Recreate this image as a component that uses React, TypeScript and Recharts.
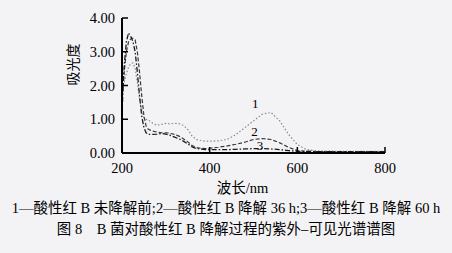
import { LineChart, Line, XAxis, YAxis, ReferenceDot } from "recharts";

// wavelength (nm)
const wavelengths = [
  200, 205, 210, 215, 220, 225, 230, 235, 240, 245, 250, 255, 260, 270, 280, 290,
  300, 310, 320, 330, 340, 350, 360, 370, 380, 390, 400, 420, 440, 460, 480, 500,
  520, 540, 560, 580, 600, 620, 650, 700, 750, 800,
];
// 1 — before degradation
const series1 = [
  1.9, 2.1, 2.35, 2.55, 2.65, 2.67, 2.5, 2.1, 1.6, 1.25, 1.05, 1.0, 0.98, 0.88, 0.82, 0.85,
  0.88, 0.86, 0.88, 0.87, 0.82, 0.7, 0.5, 0.4, 0.37, 0.35, 0.35, 0.36, 0.4, 0.55, 0.75, 0.95,
  1.15, 1.2, 0.95, 0.55, 0.25, 0.1, 0.06, 0.05, 0.05, 0.05,
];
// 2 — 36 h
const series2 = [
  1.6, 2.4, 3.0, 3.3, 3.38, 3.4, 3.35, 3.0, 2.4, 1.7, 1.1, 0.8, 0.7, 0.65, 0.62, 0.6,
  0.6, 0.58, 0.55, 0.5, 0.42, 0.33, 0.22, 0.16, 0.14, 0.13, 0.14, 0.17, 0.21, 0.26, 0.32, 0.4,
  0.43, 0.4, 0.3, 0.17, 0.07, 0.05, 0.04, 0.04, 0.04, 0.04,
];
// 3 — 60 h
const series3 = [
  1.2, 2.6, 3.3, 3.56, 3.45, 3.3, 3.0, 2.4, 1.7, 1.1, 0.75, 0.6, 0.55, 0.55, 0.56, 0.58,
  0.56, 0.52, 0.47, 0.42, 0.35, 0.27, 0.18, 0.13, 0.12, 0.1, 0.1, 0.1, 0.1, 0.11, 0.12, 0.13,
  0.13, 0.12, 0.1, 0.07, 0.05, 0.05, 0.04, 0.04, 0.04, 0.04,
];
const xTicks = [200, 400, 600, 800];
const yTicks = [0, 1, 2, 3, 4];
// curve number labels: [wavelength, absorbance, text]
const curveLabels: [number, number, string][] = [
  [504, 1.48, "1"],
  [502, 0.64, "2"],
  [515, 0.22, "3"],
];

const data = wavelengths.map((w, i) => ({
  w,
  a: series1[i],
  b: series2[i],
  c: series3[i],
}));

const font = "'Liberation Serif', 'Noto Sans CJK SC', serif";
const ink = "#000";

export default function App() {
  return (
    <div
      style={{
        position: "absolute",
        left: 0,
        top: 0,
        width: 452,
        height: 253,
        background: "#f3f2f5",
        fontFamily: font,
        color: ink,
      }}
    >
      <LineChart
        width={452}
        height={253}
        data={data}
        margin={{ top: 18, right: 67, bottom: 70, left: 0 }}
      >
        <XAxis
          dataKey="w"
          type="number"
          domain={[200, 800]}
          ticks={xTicks}
          axisLine={{ stroke: ink, strokeWidth: 2 }}
          tickLine={{ stroke: ink, strokeWidth: 1.5 }}
          tickSize={-6}
          tickMargin={16}
          height={30}
          tick={{ fill: ink, fontSize: 14.5, fontFamily: font }}
          label={{
            value: "波长/nm",
            position: "bottom",
            offset: 0,
            dx: -11,
            fill: ink,
            fontSize: 14.5,
            fontFamily: font,
          }}
        />
        <YAxis
          type="number"
          domain={[0, 4]}
          ticks={yTicks}
          width={122}
          tickFormatter={(v: number) => v.toFixed(2)}
          axisLine={{ stroke: ink, strokeWidth: 2 }}
          tickLine={{ stroke: ink, strokeWidth: 1.5 }}
          tickSize={-6}
          tickMargin={13}
          tick={{ fill: ink, fontSize: 14.5, fontFamily: font }}
          label={{
            value: "吸光度",
            angle: -90,
            position: "insideLeft",
            offset: 73,
            fill: ink,
            fontSize: 14,
            fontFamily: font,
          }}
        />
        <Line
          dataKey="a"
          stroke="#8a8a8a"
          strokeWidth={1.2}
          strokeDasharray="1.5 2"
          dot={false}
          isAnimationActive={false}
        />
        <Line
          dataKey="b"
          stroke="#3a3a3a"
          strokeWidth={1.2}
          strokeDasharray="4 2"
          dot={false}
          isAnimationActive={false}
        />
        <Line
          dataKey="c"
          stroke="#1a1a1a"
          strokeWidth={1.3}
          strokeDasharray="5 2 1.5 2"
          dot={false}
          isAnimationActive={false}
        />
        {curveLabels.map(([x, y, t]) => (
          <ReferenceDot
            key={t}
            x={x}
            y={y}
            r={0}
            stroke="none"
            label={{ value: t, position: "center", fill: ink, fontSize: 13, fontFamily: font }}
          />
        ))}
      </LineChart>
      <div
        style={{
          position: "absolute",
          left: 0,
          width: 452,
          top: 200,
          textAlign: "center",
          fontSize: 14.5,
          lineHeight: "17px",
          whiteSpace: "nowrap",
        }}
      >
        1—酸性红 B 未降解前;2—酸性红 B 降解 36 h;3—酸性红 B 降解 60 h
      </div>
      <div
        style={{
          position: "absolute",
          left: 0,
          width: 452,
          top: 221,
          textAlign: "center",
          fontSize: 14.5,
          lineHeight: "17px",
          whiteSpace: "pre",
        }}
      >
        {"图 8　B 菌对酸性红 B 降解过程的紫外–可见光谱谱图"}
      </div>
    </div>
  );
}
